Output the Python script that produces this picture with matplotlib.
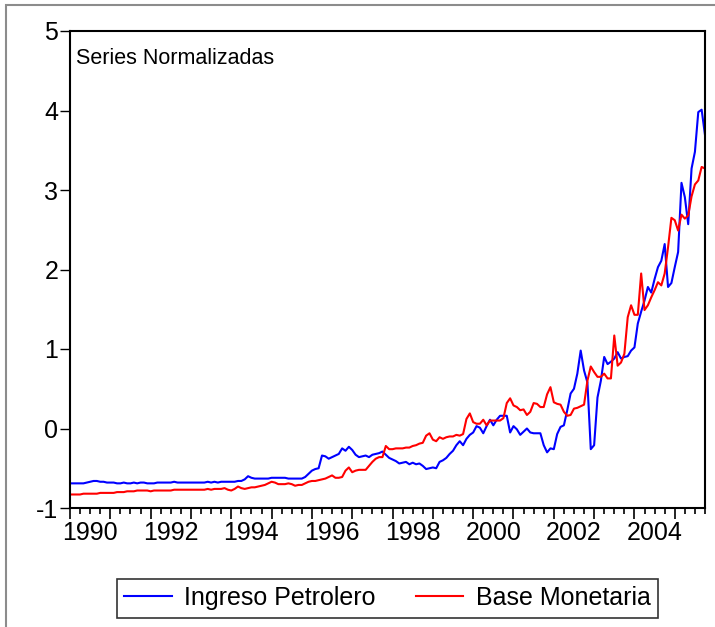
import matplotlib
matplotlib.use("Agg")
import matplotlib.pyplot as plt
import matplotlib.transforms as mtransforms
from matplotlib.patches import Rectangle
from matplotlib.ticker import MultipleLocator
import numpy as np

plt.rcParams['font.family'] = ['Liberation Sans', 'DejaVu Sans']
plt.rcParams['axes.unicode_minus'] = False

# monthly data 1990M01 - 2005M10
ingreso_petrolero = [
    -0.69, -0.69, -0.69, -0.69, -0.69, -0.68, -0.67, -0.66, -0.66, -0.67, -0.67, -0.68,  # 1990
    -0.68, -0.68, -0.69, -0.69, -0.68, -0.69, -0.69, -0.68, -0.69, -0.68, -0.68, -0.69,  # 1991
    -0.69, -0.69, -0.68, -0.68, -0.68, -0.68, -0.68, -0.67, -0.68, -0.68, -0.68, -0.68,  # 1992
    -0.68, -0.68, -0.68, -0.68, -0.68, -0.67, -0.68, -0.67, -0.68, -0.67, -0.67, -0.67,  # 1993
    -0.67, -0.67, -0.66, -0.66, -0.64, -0.60, -0.62, -0.63, -0.63, -0.63, -0.63, -0.63,  # 1994
    -0.62, -0.62, -0.62, -0.62, -0.62, -0.63, -0.63, -0.63, -0.63, -0.63, -0.61, -0.57,  # 1995
    -0.53, -0.51, -0.50, -0.34, -0.35, -0.38, -0.36, -0.34, -0.32, -0.25, -0.28, -0.23,  # 1996
    -0.27, -0.33, -0.36, -0.35, -0.34, -0.36, -0.33, -0.32, -0.31, -0.29, -0.33, -0.37,  # 1997
    -0.39, -0.41, -0.44, -0.43, -0.42, -0.45, -0.43, -0.45, -0.44, -0.47, -0.51, -0.50,  # 1998
    -0.49, -0.50, -0.42, -0.40, -0.37, -0.32, -0.28, -0.21, -0.16, -0.21, -0.13, -0.08,  # 1999
    -0.05, 0.03, 0.01, -0.06, 0.03, 0.11, 0.04, 0.11, 0.16, 0.16, 0.16, -0.05,  # 2000
    0.03, -0.01, -0.08, -0.04, 0.00, -0.05, -0.06, -0.06, -0.06, -0.21, -0.30, -0.25,  # 2001
    -0.26, -0.07, 0.02, 0.04, 0.23, 0.44, 0.50, 0.69, 0.98, 0.73, 0.58, -0.26,  # 2002
    -0.21, 0.39, 0.60, 0.90, 0.81, 0.84, 0.88, 0.96, 0.88, 0.90, 0.91, 0.98,  # 2003
    1.02, 1.32, 1.47, 1.61, 1.78, 1.71, 1.88, 2.03, 2.11, 2.32, 1.78, 1.83,  # 2004
    2.03, 2.22, 3.09, 2.91, 2.57, 3.27, 3.48, 3.98, 4.01, 3.69,  # 2005
]

base_monetaria = [
    -0.83, -0.83, -0.83, -0.83, -0.82, -0.82, -0.82, -0.82, -0.82, -0.81, -0.81, -0.81,  # 1990
    -0.81, -0.81, -0.80, -0.80, -0.80, -0.79, -0.79, -0.79, -0.78, -0.78, -0.78, -0.78,  # 1991
    -0.79, -0.78, -0.78, -0.78, -0.78, -0.78, -0.78, -0.77, -0.77, -0.77, -0.77, -0.77,  # 1992
    -0.77, -0.77, -0.77, -0.77, -0.77, -0.76, -0.77, -0.76, -0.76, -0.76, -0.75, -0.77,  # 1993
    -0.78, -0.76, -0.73, -0.75, -0.76, -0.75, -0.74, -0.74, -0.73, -0.72, -0.71, -0.69,  # 1994
    -0.67, -0.68, -0.70, -0.70, -0.70, -0.69, -0.70, -0.72, -0.71, -0.71, -0.69, -0.67,  # 1995
    -0.66, -0.66, -0.65, -0.64, -0.63, -0.61, -0.59, -0.62, -0.62, -0.61, -0.53, -0.49,  # 1996
    -0.55, -0.53, -0.52, -0.52, -0.52, -0.47, -0.42, -0.38, -0.36, -0.36, -0.22, -0.26,  # 1997
    -0.26, -0.25, -0.25, -0.25, -0.24, -0.24, -0.22, -0.21, -0.19, -0.18, -0.09, -0.06,  # 1998
    -0.14, -0.16, -0.11, -0.13, -0.11, -0.10, -0.10, -0.08, -0.09, -0.07, 0.12, 0.19,  # 1999
    0.08, 0.06, 0.06, 0.11, 0.04, 0.10, 0.10, 0.10, 0.10, 0.13, 0.32, 0.38,  # 2000
    0.29, 0.27, 0.23, 0.24, 0.17, 0.21, 0.32, 0.31, 0.27, 0.27, 0.43, 0.52,  # 2001
    0.33, 0.31, 0.30, 0.21, 0.16, 0.17, 0.25, 0.26, 0.28, 0.30, 0.60, 0.78,  # 2002
    0.71, 0.65, 0.65, 0.69, 0.63, 0.63, 1.17, 0.79, 0.83, 0.94, 1.40, 1.55,  # 2003
    1.43, 1.43, 1.95, 1.49, 1.55, 1.65, 1.74, 1.84, 1.80, 1.95, 2.28, 2.65,  # 2004
    2.62, 2.49, 2.69, 2.64, 2.68, 2.92, 3.07, 3.12, 3.29, 3.27,  # 2005
]

t = 1990 + np.arange(len(ingreso_petrolero)) / 12.0
label_years = list(range(1990, 2005, 2))

fig = plt.figure(figsize=(7.15, 6.27), dpi=100)
ax = fig.add_axes([70 / 715, 1 - 508 / 627, 635 / 715, 477 / 627])

ax.plot(t, ingreso_petrolero, color='#0000ff', lw=1.5, label='Ingreso Petrolero')
ax.plot(t, base_monetaria, color='#ff0000', lw=1.5, label='Base Monetaria')

ax.set_xlim(1990, t[-1])
ax.set_ylim(-1, 5)
for s in ax.spines.values():
    s.set_linewidth(1.5)

ax.set_yticks(range(-1, 6))
ax.tick_params(axis='y', direction='out', length=7.5, width=1, pad=1, labelsize=18, right=False)
ax.xaxis.set_major_locator(MultipleLocator(1))
ax.xaxis.set_minor_locator(MultipleLocator(0.25))
ax.tick_params(axis='x', which='major', direction='out', length=8, width=1.2, labelbottom=False)
ax.tick_params(axis='x', which='minor', direction='out', length=4, width=1.2)

trans = mtransforms.blended_transform_factory(ax.transData, ax.transAxes)
for yr in label_years:
    ax.text(yr + 0.5, -25 / 477, str(yr), transform=trans, ha='center', va='center', fontsize=18)

ax.text(6 / 635, 0.943, 'Series Normalizadas', transform=ax.transAxes,
        ha='left', va='center', fontsize=15.5)

leg = fig.legend(loc='center', bbox_to_anchor=(387.5 / 715, 1 - 598 / 627), ncol=2,
                 fontsize=18, frameon=True, fancybox=False, handlelength=1.9,
                 handletextpad=0.5, columnspacing=1.6, borderpad=0.3)
leg.get_frame().set_edgecolor('black')
leg.get_frame().set_linewidth(1.2)

fig.add_artist(Rectangle((6 / 715, -0.1), 1.2, 1 - 5 / 627 + 0.1, transform=fig.transFigure,
                         fill=False, edgecolor='#8c8c8c', lw=1.5, clip_on=False))

fig.savefig('out.png', dpi=100)
